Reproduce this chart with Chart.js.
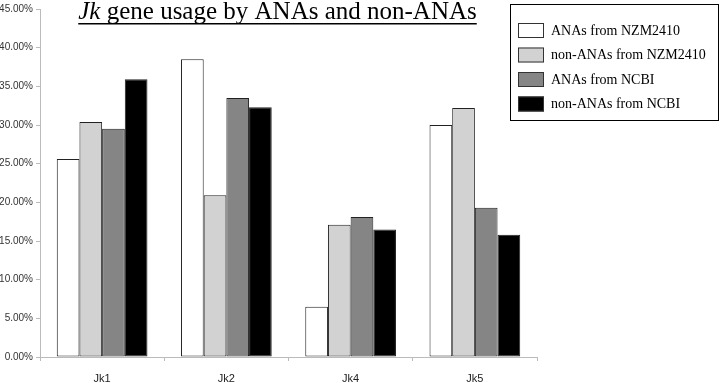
<!DOCTYPE html>
<html>
<head>
<meta charset="utf-8">
<script src="https://cdn.jsdelivr.net/npm/chart.js@4"></script>
<style>
  html, body { margin: 0; padding: 0; background: #fff; }
  #wrap { width: 720px; height: 383px; position: relative; }
</style>
</head>
<body>
<div id="wrap"><canvas id="jkChart"></canvas></div>
<script>
// categorias y series (porcentajes)
const categories = ['Jk1', 'Jk2', 'Jk4', 'Jk5'];
const seriesNames = ['ANAs from NZM2410', 'non-ANAs from NZM2410', 'ANAs from NCBI', 'non-ANAs from NCBI'];
const anasNZM = [25.6, 38.5, 6.5, 30.0];
const nonAnasNZM = [30.4, 20.9, 17.1, 32.2];
const anasNCBI = [29.5, 33.5, 18.1, 19.3];
const nonAnasNCBI = [35.9, 32.3, 16.5, 15.8];
const yTicks = [0, 5, 10, 15, 20, 25, 30, 35, 40, 45];

const fills = ['#ffffff', '#d2d2d2', '#858585', '#000000'];
const serif = '"Liberation Serif", "Times New Roman", serif';

// titulo con "Jk" en cursiva y subrayado
const titlePlugin = {
  id: 'titleDraw',
  afterDraw(chart) {
    const ctx = chart.ctx;
    const a = 'Jk', b = ' gene usage by ANAs and non-ANAs';
    ctx.save();
    ctx.fillStyle = '#000';
    ctx.textBaseline = 'alphabetic';
    ctx.font = 'italic 25px ' + serif;
    const wa = ctx.measureText(a).width;
    ctx.font = '25px ' + serif;
    const wb = ctx.measureText(b).width;
    const x0 = 277.5 - (wa + wb) / 2;
    const y = 19;
    ctx.font = 'italic 25px ' + serif;
    ctx.fillText(a, x0, y);
    ctx.font = '25px ' + serif;
    ctx.fillText(b, x0 + wa, y);
    ctx.fillRect(x0, y + 4, wa + wb, 1.5);
    ctx.restore();
  }
};

// leyenda en recuadro arriba a la derecha
const legendPlugin = {
  id: 'boxLegend',
  afterDraw(chart) {
    const ctx = chart.ctx;
    ctx.save();
    ctx.strokeStyle = '#000';
    ctx.lineWidth = 1;
    ctx.strokeRect(510.5, 4.5, 208, 116);
    ctx.font = '14px ' + serif;
    ctx.textBaseline = 'middle';
    chart.data.datasets.forEach((ds, i) => {
      const y = 23 + i * 24.5;
      ctx.fillStyle = ds.backgroundColor;
      ctx.fillRect(518, y, 26, 15);
      ctx.strokeStyle = '#333';
      ctx.strokeRect(518.5, y + 0.5, 25, 14);
      ctx.fillStyle = '#000';
      ctx.fillText(ds.label, 551, y + 8);
    });
    ctx.restore();
  }
};

const dataSeries = [anasNZM, nonAnasNZM, anasNCBI, nonAnasNCBI];

new Chart(document.getElementById('jkChart'), {
  type: 'bar',
  data: {
    labels: categories,
    datasets: dataSeries.map((d, i) => ({
      label: seriesNames[i],
      data: d,
      backgroundColor: fills[i],
      borderColor: '#222',
      borderWidth: 1,
      borderSkipped: false,
      categoryPercentage: 0.73,
      barPercentage: 1.0
    }))
  },
  options: {
    responsive: true,
    maintainAspectRatio: false,
    animation: false,
    layout: { padding: { top: 8, right: 183, left: 0, bottom: 0 } },
    plugins: {
      legend: { display: false },
      title: { display: false },
      tooltip: { enabled: false }
    },
    scales: {
      x: {
        offset: true,
        grid: { display: true, offset: true, drawOnChartArea: false, tickLength: 4, color: '#bbb' },
        border: { color: '#bbb' },
        ticks: { color: '#222', font: { family: 'Arial, "Liberation Sans", sans-serif', size: 11 }, padding: 11 },
        afterFit(scale) { scale.height = 26; }
      },
      y: {
        min: 0,
        max: 45,
        afterBuildTicks(scale) { scale.ticks = yTicks.map(v => ({ value: v })); },
        grid: { display: true, drawOnChartArea: false, tickLength: 4, color: '#bbb' },
        border: { color: '#bbb' },
        ticks: {
          color: '#333',
          padding: 3,
          font: { family: 'Arial, "Liberation Sans", sans-serif', size: 10 },
          callback: v => v.toFixed(2) + '%'
        },
        afterFit(scale) { scale.width = 40; }
      }
    }
  },
  plugins: [titlePlugin, legendPlugin]
});
</script>
</body>
</html>
